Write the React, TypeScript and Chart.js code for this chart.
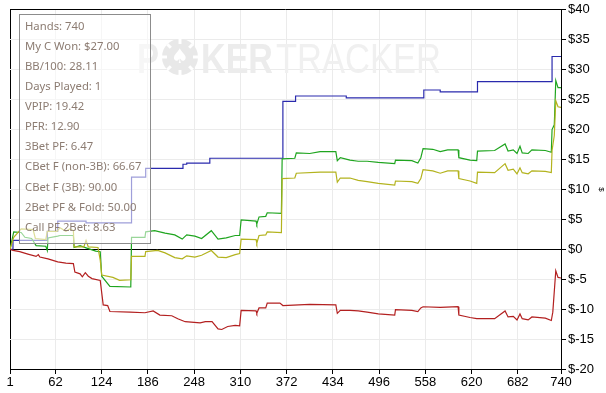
import { useEffect, useRef } from 'react';
import { Chart, registerables } from 'chart.js';

Chart.register(...registerables);

// X axis tick values (hand numbers)
const xTicks = [1, 62, 124, 186, 248, 310, 372, 434, 496, 558, 620, 682, 740];
const yMin = -20;
const yMax = 40;
const yStep = 5;

// Blue: showdown winnings (stepped)
const blueHands = [1, 5, 51, 65, 103, 164, 183, 233, 238, 269, 367, 384, 452, 556, 578, 628, 728, 740];
const blueValues = [0, 1.5, 3.0, 4.7, 4.4, 12.05, 13.5, 14.2, 14.4, 15.2, 24.7, 25.6, 25.3, 26.6, 26.3, 28.0, 32.2, 32.2];

// Green: net won
const greenHands = [1, 6, 16, 21, 30, 36, 49, 51, 52, 65, 68, 86, 87, 95, 104, 116, 122, 124, 135, 163, 164, 182, 183, 195, 209, 222, 232, 238, 249, 258, 271, 280, 291, 303, 309, 311, 331, 332, 335, 344, 346, 365, 366, 383, 385, 403, 417, 438, 440, 444, 457, 468, 480, 495, 517, 518, 540, 548, 552, 555, 568, 578, 588, 602, 603, 618, 627, 628, 651, 665, 669, 676, 681, 685, 688, 696, 701, 719, 727, 728, 731, 733, 736, 740];
const greenValues = [0, 2.9, 2.8, 2.0, 1.8, 0.6, 0.5, -0.2, 1.9, 2.2, 2.3, 2.3, 0.3, 0.6, 0.2, -0.3, -0.4, -4.5, -6.2, -6.3, 2.0, 2.0, 2.9, 3.1, 2.7, 2.4, 1.7, 2.4, 2.2, 1.8, 3.1, 1.7, 1.9, 2.3, 2.3, 4.9, 4.7, 4.2, 5.4, 5.5, 6.1, 6.0, 15.1, 15.2, 16.1, 16.0, 16.3, 16.3, 14.8, 15.3, 14.9, 14.7, 14.7, 14.5, 14.3, 14.9, 14.8, 14.4, 15.3, 16.8, 16.7, 16.3, 16.6, 16.6, 15.3, 14.9, 14.8, 16.4, 16.5, 17.6, 16.4, 16.6, 16.0, 17.2, 16.1, 16.0, 16.6, 16.5, 16.2, 20.0, 20.8, 28.2, 27.0, 27.0];

// Yellow: all-in adjusted
const yellowHands = [1, 6, 16, 32, 35, 49, 51, 64, 68, 76, 81, 86, 87, 100, 103, 106, 119, 122, 124, 139, 148, 163, 164, 182, 183, 199, 209, 222, 232, 238, 249, 258, 271, 280, 291, 303, 309, 311, 331, 332, 335, 344, 346, 365, 366, 383, 385, 417, 438, 440, 444, 457, 468, 480, 495, 517, 518, 540, 548, 552, 555, 568, 578, 588, 602, 603, 618, 627, 628, 651, 665, 669, 676, 681, 685, 688, 696, 701, 719, 727, 728, 731, 733, 736, 740];
const yellowValues = [0, 2.0, 3.4, 3.3, 1.8, 1.6, 3.0, 3.0, 3.6, 3.0, 3.4, 3.1, 0.4, 0.4, 1.5, 0.4, 0.3, -1.8, -4.3, -4.7, -5.2, -5.1, -1.2, -1.2, -0.4, -0.2, -0.6, -1.4, -1.6, -1.1, -1.3, -1.0, -0.2, -1.3, -1.4, -0.9, -0.7, 1.7, 1.6, 1.0, 2.3, 2.4, 2.9, 2.8, 11.8, 11.9, 12.7, 12.9, 12.9, 11.2, 11.9, 11.9, 11.5, 11.3, 11.0, 10.7, 11.4, 11.3, 11.0, 11.8, 13.3, 13.1, 12.7, 13.1, 13.1, 11.8, 11.4, 11.0, 12.9, 12.8, 14.3, 13.2, 13.4, 12.6, 13.6, 12.8, 12.6, 13.1, 13.0, 12.8, 16.5, 19.0, 24.8, 23.8, 23.7];

// Red: non-showdown winnings
const redHands = [1, 5, 14, 25, 36, 39, 41, 52, 65, 76, 86, 88, 95, 98, 102, 106, 111, 122, 126, 132, 135, 162, 182, 193, 202, 218, 226, 236, 256, 263, 272, 280, 285, 293, 303, 309, 311, 331, 332, 335, 344, 346, 363, 367, 403, 438, 440, 444, 457, 468, 480, 495, 517, 518, 540, 548, 552, 555, 578, 602, 603, 618, 627, 651, 665, 669, 676, 681, 685, 688, 696, 701, 719, 727, 729, 733, 736, 740];
const redValues = [0, -0.2, -0.4, -0.8, -1.2, -0.9, -1.3, -1.6, -2.1, -2.3, -2.4, -3.8, -4.1, -4.6, -3.9, -4.5, -4.9, -5.2, -9.3, -9.4, -10.4, -10.5, -10.6, -10.3, -11.0, -11.1, -11.6, -12.1, -12.3, -12.1, -12.1, -13.3, -13.4, -12.9, -12.7, -12.8, -10.2, -10.3, -10.7, -9.8, -9.8, -9.0, -9.0, -9.4, -9.2, -9.3, -10.7, -10.2, -10.2, -10.3, -10.5, -10.8, -11.0, -10.1, -10.2, -10.4, -9.8, -9.6, -9.7, -9.6, -11.0, -11.4, -11.6, -11.6, -10.3, -11.3, -11.2, -11.8, -10.8, -11.6, -11.8, -11.3, -11.5, -11.9, -10.5, -3.6, -4.7, -4.8];

const statsLines = [
  'Hands: 740',
  'My C Won: $27.00',
  'BB/100: 28.11',
  'Days Played: 1',
  'VPIP: 19.42',
  'PFR: 12.90',
  '3Bet PF: 6.47',
  'CBet F (non-3B): 66.67',
  'CBet F (3B): 90.00',
  '2Bet PF & Fold: 50.00',
  'Call PF 2Bet: 8.63',
];

const tickFont = "'Liberation Sans Narrow', 'Arial Narrow', 'Liberation Sans', sans-serif";

const toPoints = (hands: number[], values: number[]) => hands.map((h, i) => ({ x: h, y: values[i] }));

const watermarkPlugin = {
  id: 'watermark',
  beforeDatasetsDraw(chart: any) {
    const ctx = chart.ctx;
    ctx.save();
    ctx.fillStyle = '#ececec';
    ctx.textBaseline = 'alphabetic';
    ctx.textAlign = 'left';
    ctx.font = "bold 43px 'Liberation Sans', sans-serif";
    ctx.fillText('P', 137, 73, 22);
    // chip "O"
    ctx.beginPath();
    ctx.arc(180, 57, 18, 0, Math.PI * 2);
    ctx.fillStyle = '#e8e8e8';
    ctx.fill();
    ctx.strokeStyle = '#ffffff';
    ctx.lineWidth = 3;
    for (let i = 0; i < 8; i++) {
      const a = (i * Math.PI) / 4;
      ctx.beginPath();
      ctx.moveTo(180 + Math.cos(a) * 13, 57 + Math.sin(a) * 13);
      ctx.lineTo(180 + Math.cos(a) * 18, 57 + Math.sin(a) * 18);
      ctx.stroke();
    }
    ctx.fillStyle = '#ffffff';
    ctx.font = "20px 'DejaVu Sans', sans-serif";
    ctx.textAlign = 'center';
    ctx.textBaseline = 'middle';
    ctx.fillText('\u2660', 180, 58);
    ctx.fillStyle = '#ececec';
    ctx.textAlign = 'left';
    ctx.textBaseline = 'alphabetic';
    ctx.font = "bold 43px 'Liberation Sans', sans-serif";
    ctx.fillText('KER', 201, 73, 72);
    ctx.fillStyle = '#f0f0f0';
    ctx.font = "43px 'Liberation Sans', sans-serif";
    ctx.fillText('TRACKER', 276, 73, 165);
    ctx.restore();
  },
};

const statsPlugin = {
  id: 'statsBox',
  afterDatasetsDraw(chart: any) {
    const ctx = chart.ctx;
    ctx.save();
    ctx.fillStyle = 'rgba(255,255,255,0.55)';
    ctx.fillRect(19.5, 14.5, 131, 229);
    ctx.strokeStyle = '#8c8c8c';
    ctx.lineWidth = 1;
    ctx.strokeRect(19.5, 14.5, 131, 229);
    ctx.fillStyle = '#8c7c72';
    ctx.font = "11.3px 'Noto Sans', sans-serif";
    ctx.textAlign = 'left';
    ctx.textBaseline = 'middle';
    statsLines.forEach((line, i) => {
      ctx.fillText(line, 25, 26.5 + i * 20.1);
    });
    ctx.restore();
  },
};

export default function App() {
  const canvasRef = useRef<HTMLCanvasElement | null>(null);

  useEffect(() => {
    document.body.style.margin = '0';
    const canvas = canvasRef.current;
    if (!canvas) return;
    const lineDs = (label: string, hands: number[], values: number[], color: string, stepped: any = false) => ({
      label,
      data: toPoints(hands, values),
      borderColor: color,
      backgroundColor: color,
      borderWidth: 1.2,
      pointRadius: 0,
      pointHoverRadius: 0,
      tension: 0,
      stepped,
      fill: false,
    });
    const chart = new Chart(canvas, {
      type: 'line',
      data: {
        datasets: [
          lineDs('Won without showdown', redHands, redValues, '#b32020'),
          lineDs('All-in adj', yellowHands, yellowValues, '#b3b31e'),
          lineDs('Net won', greenHands, greenValues, '#1fa51f'),
          lineDs('Won at showdown', blueHands, blueValues, '#2a2aad', 'before'),
        ],
      },
      options: {
        animation: false,
        responsive: false,
        maintainAspectRatio: false,
        layout: { padding: { left: 10, top: 8, right: 0, bottom: 0 } },
        plugins: {
          legend: { display: false },
          tooltip: { enabled: false },
        },
        scales: {
          x: {
            type: 'linear',
            min: 1,
            max: 740,
            afterBuildTicks: (scale: any) => {
              scale.ticks = xTicks.map((v) => ({ value: v }));
            },
            afterFit: (scale: any) => {
              scale.height = 24;
            },
            ticks: {
              autoSkip: false,
              maxRotation: 0,
              padding: 1,
              color: '#000',
              font: { family: tickFont, size: 13 },
              callback: (v: any) => String(v),
            },
            grid: {
              color: (c: any) => (c.tick && c.tick.value === 1 ? '#000' : '#ebebeb'),
              tickColor: '#000',
              tickLength: 5,
              lineWidth: 1,
            },
            border: { display: true, color: '#000', width: 1 },
          },
          y: {
            type: 'linear',
            position: 'right',
            min: yMin,
            max: yMax,
            afterFit: (scale: any) => {
              scale.width = 45;
            },
            ticks: {
              stepSize: yStep,
              padding: 2,
              color: '#000',
              font: { family: tickFont, size: 13 },
              callback: (v: any) => '$' + v,
            },
            grid: {
              color: (c: any) => (c.tick && (c.tick.value === 0 || c.tick.value === yMax) ? '#000' : '#ebebeb'),
              tickColor: '#000',
              tickLength: 5,
              lineWidth: 1,
            },
            border: { display: true, color: '#000', width: 1 },
            title: {
              display: true,
              text: '$',
              color: '#000',
              padding: 0,
              font: { family: "'Liberation Sans', sans-serif", size: 8 },
            },
          },
        },
      },
      plugins: [watermarkPlugin, statsPlugin],
    });
    return () => chart.destroy();
  }, []);

  return (
    <div style={{ width: 606, height: 393 }}>
      <canvas ref={canvasRef} width={606} height={393} style={{ display: 'block', width: 606, height: 393 }} />
    </div>
  );
}
